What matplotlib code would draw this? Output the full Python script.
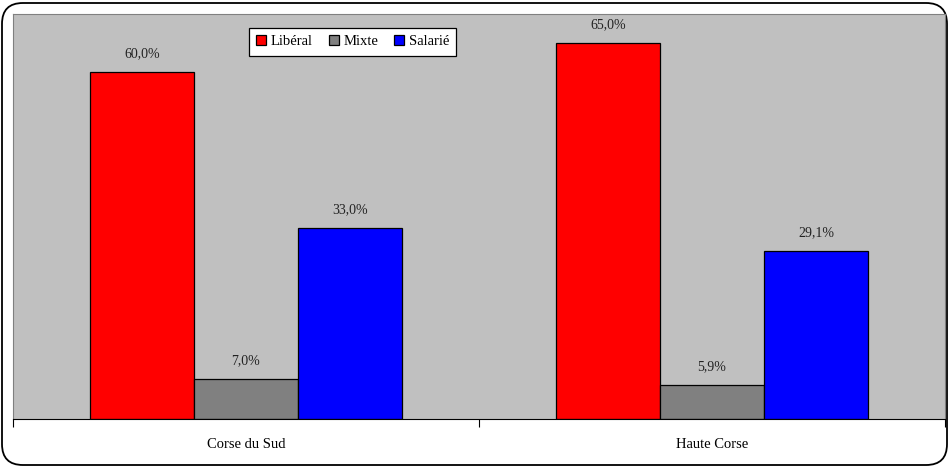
import matplotlib.pyplot as plt
from matplotlib.patches import FancyBboxPatch
import numpy as np

regions = ["Corse du Sud", "Haute Corse"]
series = ["Libéral", "Mixte", "Salarié"]
liberal = [60.0, 65.0]
mixte = [7.0, 5.9]
salarie = [33.0, 29.1]

colours = ["#FF0000", "#808080", "#0000FF"]

plt.rcParams["font.family"] = ["Liberation Serif", "DejaVu Serif"]

fig = plt.figure(figsize=(9.48, 4.67), dpi=100)

# Rounded frame round the whole chart
frame = FancyBboxPatch((2 / 948, 2 / 467), 945 / 948, 462 / 467,
                       boxstyle="round,pad=0,rounding_size=0.022",
                       transform=fig.transFigure, facecolor="white",
                       edgecolor="black", linewidth=1.3, zorder=-10,
                       mutation_aspect=948 / 467)
fig.patches.append(frame)

ax = fig.add_axes([13 / 948, 1 - 419 / 467, 932 / 948, 405 / 467])
ax.set_facecolor("#C0C0C0")

x = np.arange(len(regions))
width = 0.223
for k, (vals, name) in enumerate(zip([liberal, mixte, salarie], series)):
    pos = x + (k - 1) * width
    bars = ax.bar(pos, vals, width, color=colours[k], edgecolor="black",
                  linewidth=0.9, label=name)
    for b, v in zip(bars, vals):
        ax.text(b.get_x() + b.get_width() / 2, v + 2.0,
                f"{v:.1f}%".replace(".", ","), ha="center", va="bottom",
                fontsize=10, color="#222222")

ax.set_xlim(-0.5, 1.5)
ax.set_ylim(0, 70)

# Category ticks sit between groups, labels at group centres
ax.set_xticks([-0.5, 0.5, 1.5])
ax.set_xticklabels([])
ax.set_xticks(x, minor=True)
ax.set_xticklabels(regions, minor=True, fontsize=10.5)
ax.tick_params(axis="x", which="major", length=6, direction="out",
               color="black")
ax.tick_params(axis="x", which="minor", length=0, pad=14)
ax.set_yticks([])

for side in ["top", "left", "right"]:
    ax.spines[side].set_color("#808080")
ax.spines["bottom"].set_color("black")

leg = ax.legend(loc="upper left", bbox_to_anchor=(0.253, 0.966), ncol=3,
                frameon=True, fancybox=False, edgecolor="black",
                facecolor="white", framealpha=1.0,
                fontsize=10.5, handlelength=0.7, handleheight=0.7,
                handletextpad=0.3, columnspacing=1.1, borderpad=0.5,
                borderaxespad=0)
leg.get_frame().set_linewidth(0.9)

fig.savefig("out.png", dpi=100)
